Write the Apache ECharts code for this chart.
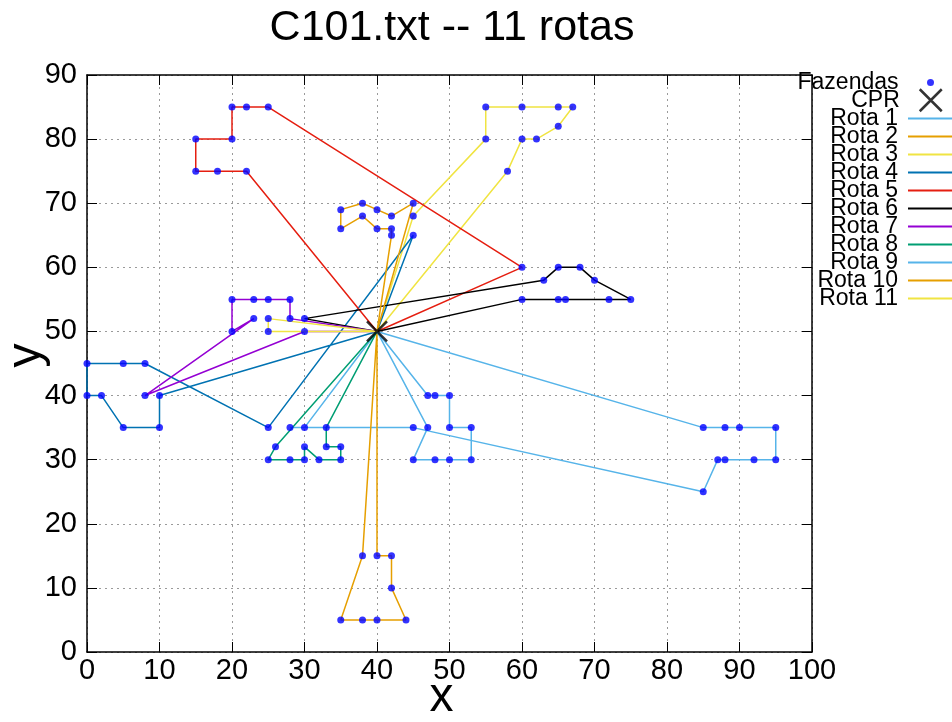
<!DOCTYPE html>
<html><head><meta charset="utf-8">
<script src="https://cdn.jsdelivr.net/npm/echarts@6/dist/echarts.min.js"></script>
<style>html,body{margin:0;padding:0;background:#fff}#c{width:952px;height:722px}</style>
</head><body><div id="c"></div>
<script>
// ---- data ----
const titleText = 'C101.txt -- 11 rotas';
const depot = [40, 50];
const rota1 = [[30,35],[28,35],[45,35],[85,25],[87,30],[88,30],[92,30],[95,30],[95,35],[90,35],[88,35],[85,35]];
const rota2 = [[38,15],[35,5],[38,5],[40,5],[44,5],[42,10],[42,15],[40,15]];
const rota3 = [[45,68],[55,80],[55,85],[60,85],[65,85],[67,85],[65,82],[62,80],[60,80],[58,75]];
const rota4 = [[45,65],[25,35],[8,45],[5,45],[0,45],[0,40],[2,40],[5,35],[10,35],[10,40]];
const rota5 = [[22,75],[18,75],[15,75],[15,80],[20,80],[20,85],[22,85],[25,85],[60,60]];
const rota6 = [[30,52],[63,58],[65,60],[68,60],[70,58],[75,55],[72,55],[66,55],[65,55],[60,55]];
const rota7 = [[28,52],[28,55],[25,55],[23,55],[20,55],[20,50],[23,52],[8,40],[30,50]];
const rota8 = [[26,32],[25,30],[28,30],[30,30],[30,32],[32,30],[35,30],[35,32],[33,32],[33,35]];
const rota9 = [[47,40],[48,40],[50,40],[50,35],[53,35],[53,30],[50,30],[48,30],[45,30],[47,35]];
const rota10 = [[45,70],[42,68],[40,69],[38,70],[35,69],[35,66],[38,68],[40,66],[42,66],[42,65]];
const rota11 = [[25,52],[25,50]];
const routeNames = ['Rota 1','Rota 2','Rota 3','Rota 4','Rota 5','Rota 6','Rota 7','Rota 8','Rota 9','Rota 10','Rota 11'];
const routeColors = ['#56b4e9','#e69f00','#f0e442','#0072b2','#e51e10','#000000','#9400d3','#009e73','#56b4e9','#e69f00','#f0e442'];
const xMin = 0, xMax = 100, yMin = 0, yMax = 90, tickStep = 10;

// ---- chart ----
const FONT = '"Liberation Sans", Arial, Helvetica, sans-serif';
const routes = [rota1,rota2,rota3,rota4,rota5,rota6,rota7,rota8,rota9,rota10,rota11];
const fazendas = routes.flat();
const XPATH = 'path://M0,0L10,10M10,0L0,10';

const series = routes.map((r, i) => ({
  name: routeNames[i], type: 'line', data: [depot, ...r, depot],
  symbol: 'none', showSymbol: false, silent: true, z: 2,
  lineStyle: { color: routeColors[i], width: 1.5 },
  itemStyle: { color: routeColors[i] }
}));
series.push({
  name: 'Fazendas', type: 'scatter', data: fazendas, symbol: 'circle', symbolSize: 7,
  itemStyle: { color: '#0000ff' }, z: 5, silent: true
});
series.push({
  name: 'CPR', type: 'scatter', data: [depot], symbol: XPATH, symbolSize: 20,
  itemStyle: { color: 'rgba(0,0,0,0)', borderColor: '#000', borderWidth: 2.5 }, z: 6, silent: true
});

const axisCommon = {
  type: 'value', interval: tickStep,
  axisLine: { show: true, onZero: false, lineStyle: { color: '#000', width: 1.5 } },
  axisTick: { show: true, inside: true, length: 10, lineStyle: { color: '#000', width: 1 } },
  splitLine: { show: false }
};
const legText = { fontFamily: FONT, fontSize: 23, color: '#000' };

const option = {
  animation: false,
  backgroundColor: '#fff',
  title: {
    text: titleText, left: 447, top: 2, textAlign: 'center',
    textStyle: { fontFamily: FONT, fontSize: 43, fontWeight: 'normal', color: '#000' }
  },
  grid: { left: 87, right: 140, top: 75, bottom: 70, containLabel: false, outerBoundsMode: 'none' },
  xAxis: [
    Object.assign({}, axisCommon, {
      position: 'bottom', min: xMin, max: xMax,
      axisLabel: { fontFamily: FONT, fontSize: 29, color: '#000', margin: 4 },
      splitLine: { show: true, lineStyle: { color: '#9a9a9a', width: 1, type: [2, 4] } },
      name: 'x', nameLocation: 'middle', nameGap: 22, nameMoveOverlap: false,
      nameTextStyle: { fontFamily: FONT, fontSize: 48, color: '#000', padding: [0, 16, 0, 0] }
    }),
    Object.assign({}, axisCommon, { position: 'top', min: xMin, max: xMax, axisLabel: { show: false } })
  ],
  yAxis: [
    Object.assign({}, axisCommon, {
      position: 'left', min: yMin, max: yMax,
      axisLabel: { fontFamily: FONT, fontSize: 29, color: '#000', margin: 10 },
      splitLine: { show: true, lineStyle: { color: '#9a9a9a', width: 1, type: [2, 4] } },
      name: 'y', nameLocation: 'middle', nameGap: 36, nameRotate: 90, nameMoveOverlap: false,
      nameTextStyle: { fontFamily: FONT, fontSize: 48, color: '#000', padding: [0, 0, 0, 16] }
    }),
    Object.assign({}, axisCommon, { position: 'right', min: yMin, max: yMax, axisLabel: { show: false } })
  ],
  legend: [
    {
      data: ['Fazendas'], orient: 'vertical', right: 13, top: 66, selectedMode: false,
      itemWidth: 44, itemHeight: 7, icon: 'circle', align: 'right',
      textStyle: Object.assign({ padding: [0, 5, 0, 0] }, legText)
    },
    {
      data: [{ name: 'CPR', icon: XPATH }], orient: 'vertical', right: 4, top: 83, selectedMode: false,
      itemWidth: 22, itemHeight: 22, align: 'right',
      itemStyle: { color: 'rgba(0,0,0,0)', borderColor: '#000', borderWidth: 2.5 },
      textStyle: Object.assign({ padding: [0, 15, 0, 0] }, legText)
    },
    {
      data: routeNames, orient: 'vertical', right: -12, top: 102, selectedMode: false,
      itemWidth: 50, itemHeight: 18, itemGap: -5, align: 'right',
      itemStyle: { opacity: 0 },
      lineStyle: { width: 2 },
      textStyle: Object.assign({ padding: [0, 5, 0, 0] }, legText)
    }
  ],
  series: series
};

const chart = echarts.init(document.getElementById('c'), null, { renderer: 'canvas' });
chart.setOption(option);
</script>
</body></html>
